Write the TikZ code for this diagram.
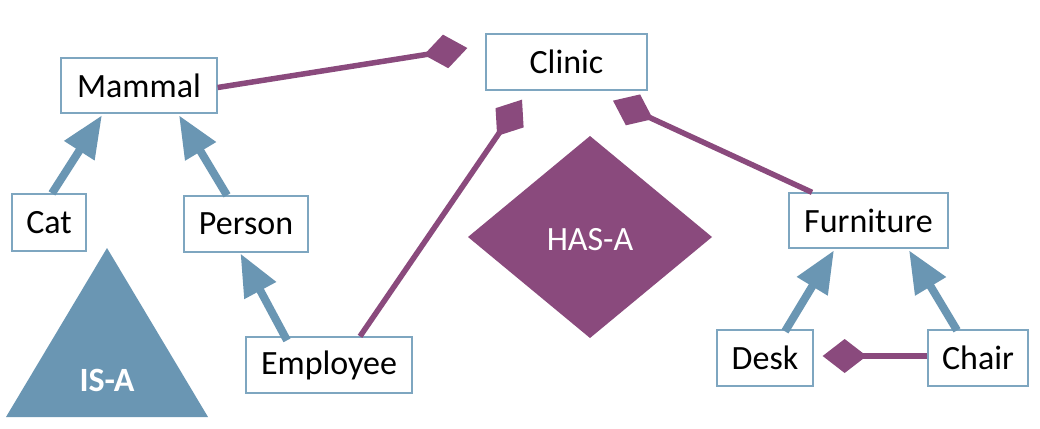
\documentclass[tikz,border=0pt]{standalone}
\usepackage{fontspec}
\setmainfont{Carlito}
\usetikzlibrary{arrows.meta}
\definecolor{isablue}{HTML}{6A96B3}
\definecolor{hasapurple}{HTML}{8A4A7D}
\definecolor{boxline}{HTML}{7EA6C0}
\tikzset{
  cls/.style={draw=boxline, line width=1.3pt, fill=white, inner sep=0pt,
    font=\fontsize{34}{40}\selectfont, text=black},
  isa/.style={draw=isablue, line width=8pt, -{Triangle[length=42pt,width=34pt]}},
  hasa/.style={draw=hasapurple, line width=5.5pt, -{Diamond[length=44pt,width=34pt]}},
}
\begin{document}
\begin{tikzpicture}[x=1pt,y=-1pt]
\useasboundingbox[fill=white] (0,0) rectangle (1040,428);
% nodes
\node[cls, minimum width=156pt, minimum height=55pt] (mammal) at (139,85.5) {Mammal};
\node[cls, minimum width=161pt, minimum height=56pt] (clinic) at (566.5,62) {Clinic};
\node[cls, minimum width=74pt, minimum height=57pt] (cat) at (49,222.5) {Cat};
\node[cls, minimum width=124pt, minimum height=56pt] (person) at (246,224) {Person};
\node[cls, minimum width=166pt, minimum height=56pt] (employee) at (329,365) {Employee};
\node[cls, minimum width=159pt, minimum height=55pt] (furniture) at (868.5,220.5) {Furniture};
\node[cls, minimum width=96pt, minimum height=56pt] (desk) at (765,358) {Desk};
\node[cls, minimum width=100pt, minimum height=56pt] (chair) at (978,358) {Chair};
% legend shapes
\fill[isablue] (107,248) -- (208,417) -- (6,417) -- cycle;
\node[text=white, font=\fontsize{34}{40}\selectfont\bfseries] (isa) at (107,380) {IS-A};
\fill[hasapurple] (590,136) -- (712,237) -- (590,338) -- (468,237) -- cycle;
\node[text=white, font=\fontsize{34}{40}\selectfont] (hasa) at (590,240) {HAS-A};
% IS-A connectors
\draw[isa, shorten >=2pt] ([xshift=3pt]cat.north) -- ([xshift=-36pt]mammal.south);
\draw[isa, shorten >=2pt] ([xshift=-19pt]person.north) -- ([xshift=39pt]mammal.south);
\draw[isa, shorten >=1pt] ([xshift=-42pt,yshift=-4pt]employee.north) -- ([xshift=-6pt]person.south);
\draw[isa, shorten >=2pt] ([xshift=20pt,yshift=-2pt]desk.north) -- ([xshift=-33.5pt]furniture.south);
\draw[isa, shorten >=2pt] ([xshift=-21pt,yshift=-1pt]chair.north) -- ([xshift=39.5pt]furniture.south);
% HAS-A connectors
\draw[hasa] ([yshift=-2pt]mammal.east) -- ([xshift=-18pt,yshift=14pt]clinic.west);
\draw[hasa] ([xshift=31pt]employee.north) -- ([xshift=-44.5pt,yshift=-9pt]clinic.south);
\draw[hasa] ([xshift=-56.5pt]furniture.north) -- ([xshift=46.5pt,yshift=-10pt]clinic.south);
\draw[hasa] ([yshift=2pt]chair.west) -- ([xshift=9pt,yshift=2pt]desk.east);
\end{tikzpicture}
\end{document}
